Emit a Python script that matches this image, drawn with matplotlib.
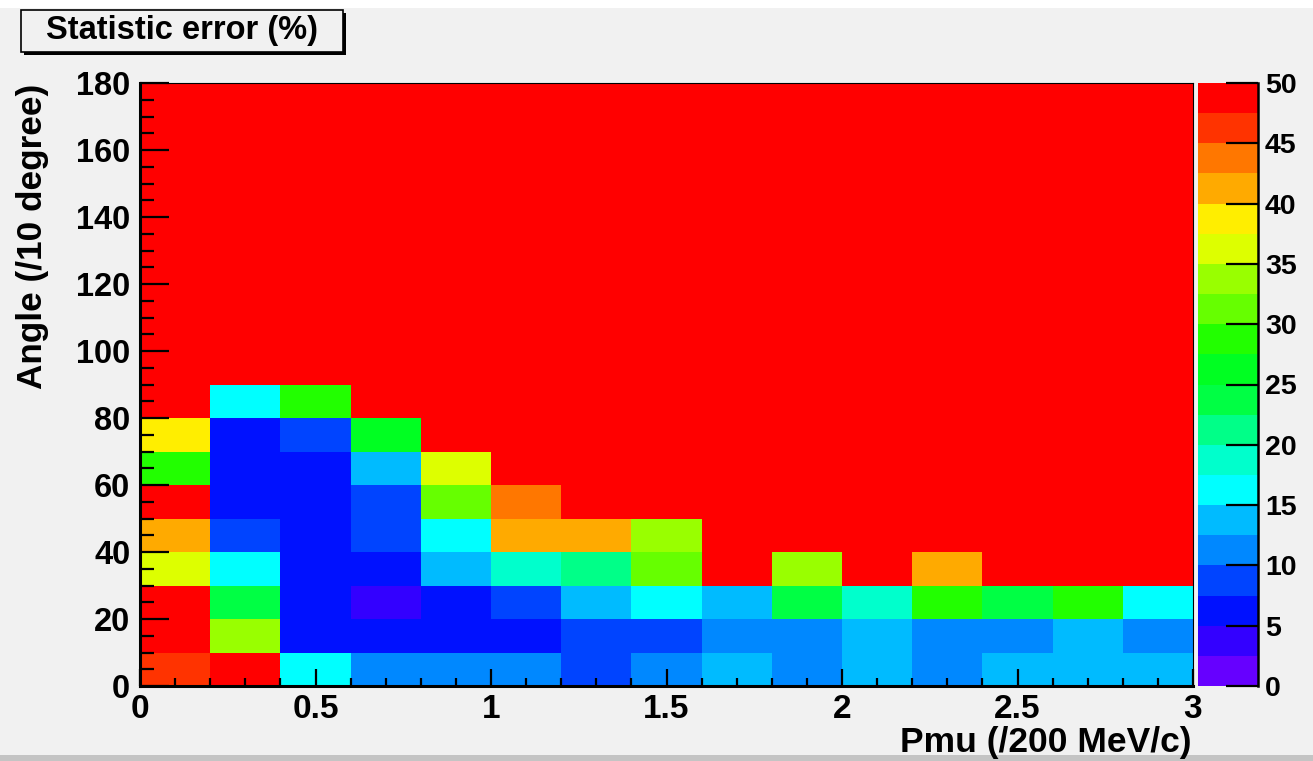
import numpy as np
import matplotlib
matplotlib.use("Agg")
import matplotlib.pyplot as plt
from matplotlib.colors import ListedColormap, BoundaryNorm
from matplotlib.patches import Rectangle
from matplotlib.ticker import MultipleLocator

plt.rcParams['font.family'] = ['Liberation Sans', 'DejaVu Sans']
plt.rcParams['font.weight'] = 'bold'

# Binning: Pmu in units of 200 MeV/c, angle in units of 10 degrees
pmu_edges = np.linspace(0.0, 3.0, 16)
angle_edges = np.arange(0, 190, 10)

# Statistic error (%) per angle bin, one value per Pmu bin
err_angle_000_010 = [46.3, 49.0, 16.5, 11.2, 11.4, 11.0, 8.8, 11.3, 13.8, 11.5, 13.6, 11.2, 13.9, 13.7, 13.5]
err_angle_010_020 = [49.0, 33.8, 6.3, 6.1, 6.4, 6.2, 8.7, 8.9, 11.1, 11.4, 13.7, 11.3, 11.6, 13.8, 11.2]
err_angle_020_030 = [49.0, 23.6, 6.2, 3.9, 6.3, 8.8, 13.6, 16.4, 13.9, 23.8, 18.9, 28.6, 23.7, 28.8, 16.3]
err_angle_030_040 = [36.2, 16.1, 6.4, 6.2, 13.8, 18.7, 21.3, 31.2, 50.0, 33.7, 50.0, 41.3, 50.0, 50.0, 50.0]
err_angle_040_050 = [41.4, 8.8, 6.2, 8.9, 16.3, 41.2, 41.1, 33.9, 50.0, 50.0, 50.0, 50.0, 50.0, 50.0, 50.0]
err_angle_050_060 = [50.0, 6.3, 6.1, 8.7, 31.3, 43.8, 50.0, 50.0, 50.0, 50.0, 50.0, 50.0, 50.0, 50.0, 50.0]
err_angle_060_070 = [28.7, 6.4, 6.3, 13.7, 36.1, 50.0, 50.0, 50.0, 50.0, 50.0, 50.0, 50.0, 50.0, 50.0, 50.0]
err_angle_070_080 = [38.8, 6.2, 8.8, 26.3, 50.0, 50.0, 50.0, 50.0, 50.0, 50.0, 50.0, 50.0, 50.0, 50.0, 50.0]
err_angle_080_090 = [50.0, 16.2, 28.9, 50.0, 50.0, 50.0, 50.0, 50.0, 50.0, 50.0, 50.0, 50.0, 50.0, 50.0, 50.0]
# Above 90 (x10 degree) every bin is saturated
err_angle_090_180 = [50.0] * 15

err = np.array([err_angle_000_010, err_angle_010_020, err_angle_020_030,
                err_angle_030_040, err_angle_040_050, err_angle_050_060,
                err_angle_060_070, err_angle_070_080, err_angle_080_090]
               + [err_angle_090_180] * 9)

# 20-level rainbow palette, 2.5 % per level
palette = ['#6600ff', '#3300ff', '#0011ff', '#0044ff', '#0088ff',
           '#00bbff', '#00ffff', '#00ffcc', '#00ff88', '#00ff44',
           '#00ff22', '#22ff00', '#66ff00', '#99ff00', '#ddff00',
           '#ffee00', '#ffaa00', '#ff7700', '#ff3300', '#ff0000']
levels = np.linspace(0, 50, 21)
cmap = ListedColormap(palette)
cmap.set_over('#ff0000')
norm = BoundaryNorm(levels, cmap.N)

W, H = 1313, 761
bg = '#f1f1f1'
fig = plt.figure(figsize=(W / 100, H / 100), dpi=100, facecolor=bg)

# top white strip and bottom grey band of the canvas
fig.patches.append(Rectangle((0, 1 - 8 / H), 1, 8 / H, transform=fig.transFigure,
                             facecolor='white', edgecolor='none', zorder=0))
fig.patches.append(Rectangle((0, 0), 1, 6 / H, transform=fig.transFigure,
                             facecolor='#c4c4c4', edgecolor='none', zorder=0))


def box(l, t, r, b):
    return [l / W, 1 - b / H, (r - l) / W, (b - t) / H]


ax = fig.add_axes(box(140, 83, 1193, 686))
mesh = ax.pcolormesh(pmu_edges, angle_edges, err, cmap=cmap, norm=norm)
ax.set_xlim(0, 3)
ax.set_ylim(0, 180)

ax.xaxis.set_major_locator(MultipleLocator(0.5))
ax.xaxis.set_minor_locator(MultipleLocator(0.1))
ax.yaxis.set_major_locator(MultipleLocator(20))
ax.yaxis.set_minor_locator(MultipleLocator(5))
ax.set_xticks([0, 0.5, 1, 1.5, 2, 2.5, 3], ['0', '0.5', '1', '1.5', '2', '2.5', '3'])

ax.tick_params(axis='x', which='major', direction='in', length=12, width=1.6,
               labelsize=24, pad=6)
ax.tick_params(axis='x', which='minor', direction='in', length=6, width=1.6)
ax.tick_params(axis='y', which='major', direction='in', length=21, width=1.6,
               labelsize=23.5, pad=7)
ax.tick_params(axis='y', which='minor', direction='in', length=10, width=1.6)
for lab in ax.get_xticklabels() + ax.get_yticklabels():
    lab.set_fontweight('bold')

for side in ('left', 'bottom'):
    ax.spines[side].set_linewidth(2.2)
for side in ('top', 'right'):
    ax.spines[side].set_linewidth(0.8)

# colour scale
cax = fig.add_axes(box(1198, 83, 1258, 686))
cb = fig.colorbar(mesh, cax=cax, ticks=np.arange(0, 55, 5), extend='neither')
cb.outline.set_visible(False)
cax.spines['right'].set_visible(True)
cax.spines['right'].set_linewidth(1.8)
cax.tick_params(axis='y', direction='in', length=23, width=1.6, labelsize=20.5, pad=5)
cax.minorticks_off()
for lab in cax.get_yticklabels():
    lab.set_fontweight('bold')

# axis titles
fig.text(1192 / W, 1 - 752 / H, 'Pmu (/200 MeV/c)', ha='right', va='baseline',
         fontsize=25.5, fontweight='bold')
fig.text(33 / W, 1 - 84 / H, 'Angle (/10 degree)', ha='center', va='top',
         rotation=90, fontsize=25.3, fontweight='bold')

# title box with shadow
fig.patches.append(Rectangle((24 / W, 1 - 55 / H), 322 / W, 42 / H,
                             transform=fig.transFigure, facecolor='black',
                             edgecolor='none', zorder=1))
fig.patches.append(Rectangle((21 / W, 1 - 52 / H), 322 / W, 42 / H,
                             transform=fig.transFigure, facecolor=bg,
                             edgecolor='black', linewidth=1.2, zorder=2))
fig.text(182 / W, 1 - 31 / H, 'Statistic error (%)', ha='center', va='center',
         fontsize=23.5, fontweight='bold', zorder=3)

fig.savefig('out.png', dpi=100, facecolor=bg)
